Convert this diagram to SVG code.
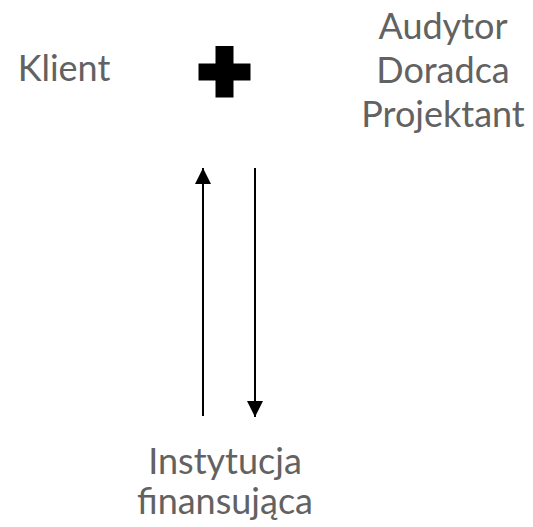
<svg xmlns="http://www.w3.org/2000/svg" width="533" height="527" viewBox="0 0 533 527">
<style>
.t{font-family:Lato,"Liberation Sans",sans-serif;fill:#626262;text-anchor:middle;font-size:36px}
.c{stroke:#000;stroke-width:2;fill:none}
</style>
<defs>
<marker id="ah" viewBox="0 0 16 16" refX="16" refY="8" markerWidth="16" markerHeight="16" markerUnits="userSpaceOnUse" orient="auto"><path d="M0,0L16,8L0,16Z" fill="#000"/></marker>
</defs>
<rect width="533" height="527" fill="#fff"/>
<g id="klient"><text class="t" x="64" y="81">Klient</text></g>
<g id="plus"><path d="M215.5,46H233.5V63.5H250.5V80.5H233.5V97.5H215.5V80.5H198.5V63.5H215.5Z" fill="#000"/></g>
<g id="audytor"><text class="t"><tspan x="443" y="39">Audytor</tspan><tspan x="443" y="83">Doradca</tspan><tspan x="443" y="127">Projektant</tspan></text></g>
<g id="instytucja"><text class="t"><tspan x="225" y="474">Instytucja</tspan><tspan x="225" y="514">finansująca</tspan></text></g>
<g id="connectors">
<line class="c" x1="203" y1="416" x2="203" y2="168" marker-end="url(#ah)"/>
<line class="c" x1="255" y1="168" x2="255" y2="417" marker-end="url(#ah)"/>
</g>
</svg>
